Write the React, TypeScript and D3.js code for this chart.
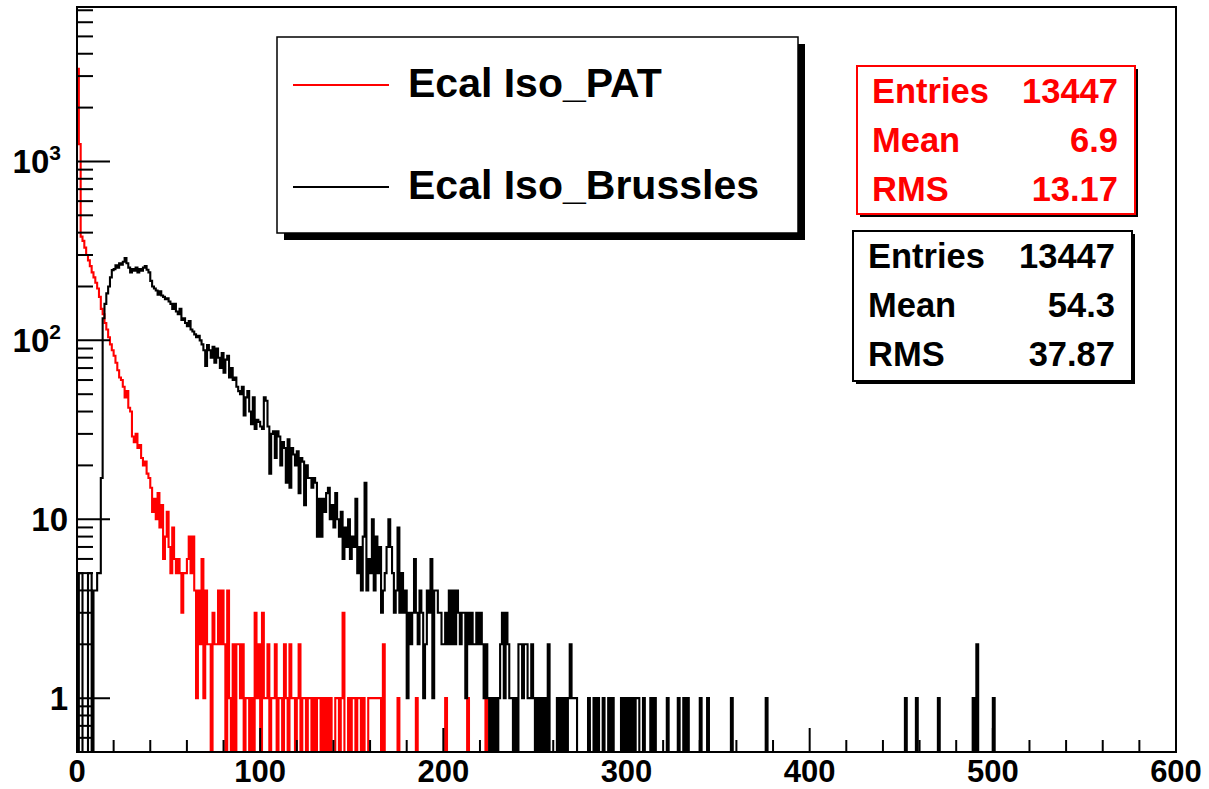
import React from "react";
import * as d3 from "d3";

// ---- axis ranges ----
const X_DOMAIN: [number, number] = [0, 600];
const Y_DOMAIN: [number, number] = [0.5, 7300];
const N_BINS = 600;

const xMajorTicks = [0, 100, 200, 300, 400, 500, 600];
const yDecadeLabels = [
  { value: 1, base: "1", exp: "" },
  { value: 10, base: "10", exp: "" },
  { value: 100, base: "10", exp: "2" },
  { value: 1000, base: "10", exp: "3" },
];

// ---- Ecal Iso_PAT (red), counts per 1-unit bin starting at 0 ----
const patCounts = [
  3300, 1250, 380, 360, 330, 300, 280, 260, 240, 225,
  210, 195, 175, 150, 140, 125, 115, 104, 95, 88,
  82, 75, 68, 62, 60, 55, 48, 52, 42, 40,
  29, 27, 30, 25, 26, 22, 20, 21, 18, 17,
  15, 11, 13, 10, 14, 9, 12, 6, 8, 11,
  7, 5, 9, 6, 5, 6, 5, 3, 5, 5,
  6, 8, 5, 8, 4, 1, 4, 2, 6, 1,
  4, 2, 2, 0, 3, 2, 2, 4, 2, 4,
  2, 0, 4, 1, 0, 2, 0, 2, 2, 1,
  2, 0, 1, 1, 0, 1, 0, 3, 1, 2,
  0, 3, 1, 1, 2, 0, 1, 1, 2, 0,
  1, 1, 0, 2, 1, 0, 2, 1, 1, 0,
  1, 2, 0, 1, 1, 0, 1, 1, 0, 1,
  0, 1, 1, 0, 1, 0, 1, 0, 1, 0,
  0, 1, 1, 0, 1, 3, 0, 0, 1, 0,
  1, 1, 0, 1, 1, 0, 1, 0, 0, 1,
  1, 1, 1, 1, 1, 1, 0, 2,
];
// isolated PAT entries further out: [bin, count]
const patTail: [number, number][] = [
  [175, 1], [185, 1], [201, 1], [213, 1], [223, 1],
];

// ---- Ecal Iso_Brussles (black), counts per 1-unit bin starting at 0 ----
const brusCounts = [
  0, 5, 5, 0, 0, 0, 5, 5, 0, 4,
  4, 5, 5, 17, 133, 160, 183, 200, 225, 247,
  250, 263, 255, 270, 265, 275, 288, 270, 255, 240,
  250, 245, 255, 240, 250, 245, 255, 260, 248, 240,
  215, 200, 195, 190, 180, 188, 178, 175, 170, 172,
  165, 160, 150, 160, 145, 140, 150, 130, 133, 125,
  120, 128, 115, 112, 108, 104, 106, 100, 95, 88,
  72, 94, 88, 80, 92, 75, 90, 80, 70, 85,
  66, 78, 82, 62, 70, 60, 62, 55, 52, 50,
  55, 38, 48, 52, 40, 34, 48, 32, 36, 35,
  33, 32, 48, 46, 33, 18, 30, 31, 22, 31,
  29, 20, 27, 25, 16, 28, 15, 25, 23, 20,
  24, 14, 22, 21, 12, 20, 17, 17, 15, 17,
  16, 8, 13, 8, 13, 11, 14, 15, 10, 12,
  9, 14, 10, 8, 11, 6, 9, 7, 10, 6,
  8, 7, 13, 5, 7, 4, 8, 16, 4, 6,
  5, 10, 4, 8, 5, 7, 3, 4, 5, 7,
  10, 7, 5, 3, 4, 9, 3, 5, 3, 4,
  1, 3, 2, 3, 6, 3, 2, 4, 3, 1,
  2, 4, 3, 6, 1, 4, 4, 3, 3, 2,
  2, 3, 2, 4, 2, 4, 2, 4, 3, 2,
  3, 3, 1, 3, 2, 3, 2, 2, 3, 2,
  3, 2, 1, 2, 1, 0, 1, 0, 1, 0,
  1, 2, 3, 1, 3, 2, 1, 1, 0, 1,
  0, 2, 2, 1, 2, 2, 1, 1, 2, 1,
  0, 1, 0, 1, 0, 1, 0, 2, 0, 0,
  0, 0, 1, 0, 1, 0, 1, 0, 1, 2,
  1, 1, 1,
];
// isolated Brussles entries further out: [bin, count]
const brusTail: [number, number][] = [
  [279, 1], [282, 1], [284, 1], [287, 1], [290, 1], [292, 1],
  [297, 1], [299, 1], [301, 1], [303, 1], [305, 1], [306, 1],
  [309, 1], [313, 1], [315, 1], [322, 1], [328, 1], [331, 1],
  [333, 1], [340, 1], [344, 1], [357, 1], [376, 1], [452, 1],
  [458, 1], [470, 1], [489, 1], [491, 2], [500, 1],
];

const patStats = [
  ["Entries", "13447"],
  ["Mean", "6.9"],
  ["RMS", "13.17"],
];
const brusStats = [
  ["Entries", "13447"],
  ["Mean", "54.3"],
  ["RMS", "37.87"],
];

const legendEntries = [
  { label: "Ecal Iso_PAT", color: "#ff0000" },
  { label: "Ecal Iso_Brussles", color: "#000000" },
];

// ---- layout ----
const W = 1209;
const H = 789;
const FRAME = { left: 77, right: 1176, top: 7, bottom: 752 };
const FONT = "'Liberation Sans', Arial, Helvetica, sans-serif";

function fillBins(counts: number[], tail: [number, number][]): number[] {
  const bins = new Array(N_BINS).fill(0);
  counts.forEach((c, i) => (bins[i] = c));
  tail.forEach(([i, c]) => (bins[i] = c));
  return bins;
}

function histPath(
  bins: number[],
  x: d3.ScaleLinear<number, number>,
  y: d3.ScaleLogarithmic<number, number>
): string {
  const bottom = FRAME.bottom;
  const yOf = (c: number) =>
    c > 0 ? Math.max(FRAME.top, Math.min(bottom, y(c))) : bottom;
  const p = d3.path();
  p.moveTo(x(0), bottom);
  bins.forEach((c, i) => {
    const yy = yOf(c);
    p.lineTo(x(i), yy);
    p.lineTo(x(i + 1), yy);
  });
  p.lineTo(x(bins.length), bottom);
  return p.toString();
}

export default function App() {
  const x = d3.scaleLinear().domain(X_DOMAIN).range([FRAME.left, FRAME.right]);
  const y = d3.scaleLog().domain(Y_DOMAIN).range([FRAME.bottom, FRAME.top]);

  const pat = fillBins(patCounts, patTail);
  const brus = fillBins(brusCounts, brusTail);

  // x ticks: majors every 100, minors every 20
  const xMinor = d3.range(0, 601, 20).filter((v) => v % 100 !== 0);
  // y ticks: log minors 2..9 per decade, inside the domain
  const yMinor: number[] = [];
  for (const dec of [0.1, 1, 10, 100, 1000]) {
    for (let k = 2; k <= 9; k++) {
      const v = dec * k;
      if (v >= Y_DOMAIN[0] && v <= Y_DOMAIN[1]) yMinor.push(v);
    }
  }

  const legend = { x: 277, y: 37, w: 521, h: 196, shadow: 7 };
  const statBoxes = [
    { x: 857, y: 66, w: 278, h: 148, color: "#ff0000", rows: patStats, shadow: 3 },
    { x: 853, y: 231, w: 279, h: 150, color: "#000000", rows: brusStats, shadow: 3 },
  ];

  return (
    <svg
      width={W}
      height={H}
      style={{ position: "absolute", left: 0, top: 0, background: "#fff" }}
      fontFamily={FONT}
    >
      <defs>
        <clipPath id="frame-clip">
          <rect x={FRAME.left} y={FRAME.top} width={FRAME.right - FRAME.left} height={FRAME.bottom - FRAME.top} />
        </clipPath>
      </defs>
      <rect x={0} y={0} width={W} height={H} fill="#fff" />

      {/* histograms */}
      <g clipPath="url(#frame-clip)" fill="none" strokeLinejoin="miter">
        <path d={histPath(pat, x, y)} stroke="#ff0000" strokeWidth={2.1} />
        <path d={histPath(brus, x, y)} stroke="#000000" strokeWidth={2.1} />
      </g>

      {/* frame */}
      <rect
        x={FRAME.left}
        y={FRAME.top}
        width={FRAME.right - FRAME.left}
        height={FRAME.bottom - FRAME.top}
        fill="none"
        stroke="#000"
        strokeWidth={2}
      />

      {/* axis ticks */}
      <g stroke="#000" strokeWidth={2}>
        {xMajorTicks.map((v) => (
          <line key={"xM" + v} x1={x(v)} x2={x(v)} y1={FRAME.bottom} y2={FRAME.bottom - 24} />
        ))}
        {xMinor.map((v) => (
          <line key={"xm" + v} x1={x(v)} x2={x(v)} y1={FRAME.bottom} y2={FRAME.bottom - 12} />
        ))}
        {yDecadeLabels.map((d) => (
          <line key={"yM" + d.value} x1={FRAME.left} x2={FRAME.left + 33} y1={y(d.value)} y2={y(d.value)} />
        ))}
        {yMinor.map((v) => (
          <line key={"ym" + v} x1={FRAME.left} x2={FRAME.left + 16} y1={y(v)} y2={y(v)} />
        ))}
      </g>

      {/* x labels */}
      <g fontSize={31} fontWeight="bold" textAnchor="middle" fill="#000">
        {xMajorTicks.map((v) => (
          <text key={"xl" + v} x={x(v)} y={782}>
            {v}
          </text>
        ))}
      </g>

      {/* y labels */}
      <g fontSize={33} fontWeight="bold" textAnchor="end" fill="#000">
        {yDecadeLabels.map((d) => (
          <text key={"yl" + d.value} x={d.exp ? 61 : 68} y={y(d.value) + 12}>
            {d.base}
            {d.exp && (
              <tspan fontSize={21} dy={-13}>
                {d.exp}
              </tspan>
            )}
          </text>
        ))}
      </g>

      {/* legend */}
      <g>
        <rect x={legend.x + legend.shadow} y={legend.y + legend.shadow} width={legend.w} height={legend.h} fill="#000" />
        <rect x={legend.x} y={legend.y} width={legend.w} height={legend.h} fill="#fff" stroke="#000" strokeWidth={1.5} />
        {legendEntries.map((e, i) => {
          const cy = 85 + i * 102;
          return (
            <g key={e.label}>
              <line x1={293} x2={389} y1={cy} y2={cy} stroke={e.color} strokeWidth={2} />
              <text x={408} y={cy + 12} fontSize={41} fontWeight="bold" fill="#000">
                {e.label}
              </text>
            </g>
          );
        })}
      </g>

      {/* stats boxes */}
      {statBoxes.map((b, bi) => (
        <g key={"sb" + bi}>
          <rect x={b.x + b.shadow} y={b.y + b.shadow} width={b.w} height={b.h} fill="#000" />
          <rect x={b.x} y={b.y} width={b.w} height={b.h} fill="#fff" stroke={b.color} strokeWidth={2} />
          {b.rows.map(([k, v], ri) => (
            <g key={k} fontSize={34.5} fontWeight="bold" fill={b.color}>
              <text x={b.x + 15} y={b.y + 37 + ri * 49}>
                {k}
              </text>
              <text x={b.x + b.w - 17} y={b.y + 37 + ri * 49} textAnchor="end">
                {v}
              </text>
            </g>
          ))}
        </g>
      ))}
    </svg>
  );
}
